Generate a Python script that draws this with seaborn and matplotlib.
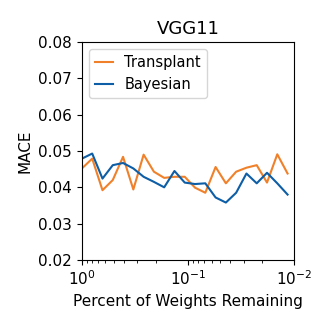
import numpy as np
import pandas as pd
import matplotlib
matplotlib.use("Agg")
import matplotlib.pyplot as plt
import seaborn as sns

steps = list(range(21))
weights_remaining = [0.8 ** k for k in steps]
transplant = [0.0452, 0.0479, 0.0392, 0.0420, 0.0484, 0.0394, 0.0490, 0.0443, 0.0426, 0.0429,
              0.0429, 0.0399, 0.0385, 0.0456, 0.0411, 0.0443, 0.0454, 0.0461, 0.0413, 0.0491, 0.0438]
bayesian = [0.0479, 0.0493, 0.0424, 0.0461, 0.0467, 0.0452, 0.0429, 0.0415, 0.0400, 0.0445,
            0.0413, 0.0409, 0.0411, 0.0372, 0.0358, 0.0385, 0.0438, 0.0411, 0.0440, 0.0411, 0.0380]

df = pd.DataFrame({
    "x": weights_remaining * 2,
    "MACE": transplant + bayesian,
    "method": ["Transplant"] * len(steps) + ["Bayesian"] * len(steps),
})

fig = plt.figure(figsize=(3.29, 3.29), dpi=100)
ax = fig.add_axes([0.249, 0.210, 0.645, 0.662])
sns.lineplot(data=df, x="x", y="MACE", hue="method",
             palette={"Transplant": "#f0812a", "Bayesian": "#0d5ea6"},
             linewidth=1.5, ax=ax)
ax.set_xscale("log")
ax.set_xlim(1, 0.01)
ax.set_ylim(0.02, 0.08)
ax.set_yticks([0.02, 0.03, 0.04, 0.05, 0.06, 0.07, 0.08])
ax.set_title("VGG11", fontsize=13)
ax.set_xlabel("Percent of Weights Remaining", fontsize=11)
ax.set_ylabel("MACE", fontsize=11)
ax.tick_params(labelsize=11)
ax.legend(title=None, loc="upper left", fontsize=10.5, handlelength=1.25,
          handletextpad=0.75, labelspacing=0.45)
fig.savefig("out.png", dpi=100)
